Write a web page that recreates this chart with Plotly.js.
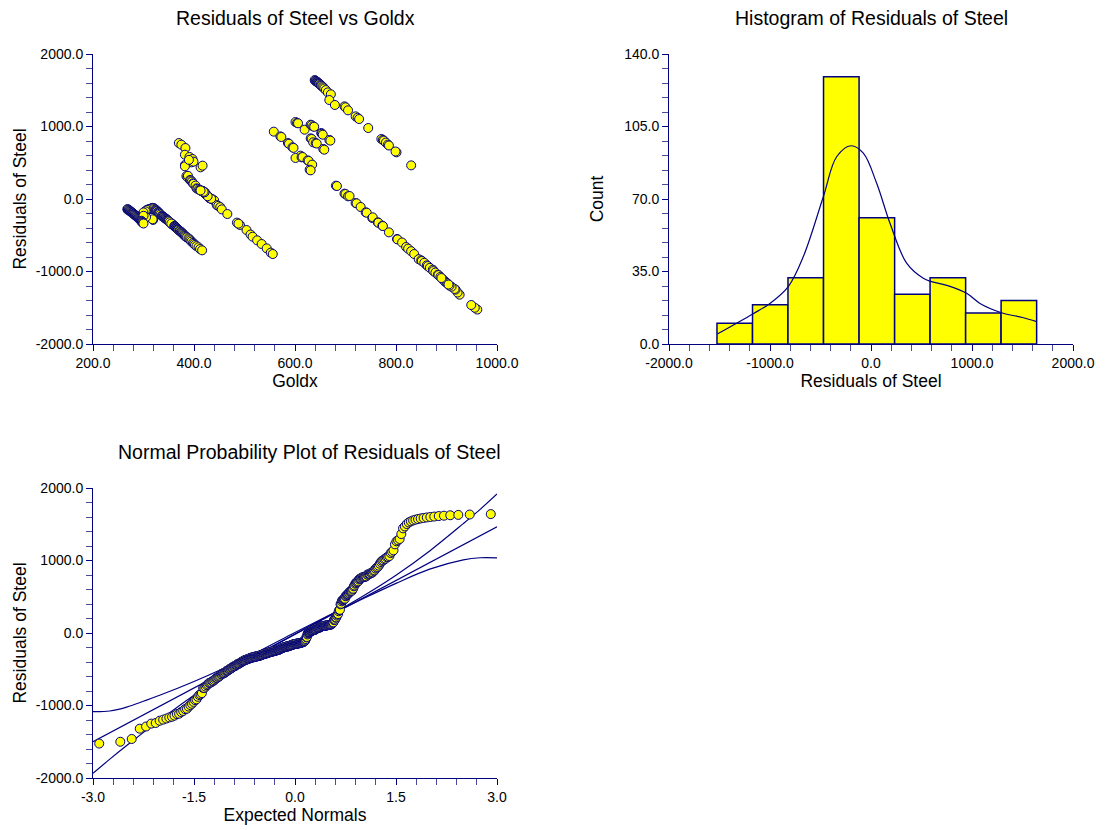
<!DOCTYPE html>
<html>
<head>
<meta charset="utf-8">
<script src="https://cdn.plot.ly/plotly-3.0.1.min.js"></script>
<style>html,body{margin:0;padding:0;background:#fff;}#chart{width:1113px;height:830px;}</style>
</head>
<body>
<div id="chart"></div>
<script>
// ---------- DATA ----------
const goldx = [
  639,640,641,642,643,644,645,646,647,648,650,651,652,654,656,658,661,665,671,668,679,
  698,700,705,720,724,727,745,601,604,606,619,631,633,636,638,
  771,774,776,780,784,786,801,799,652,653,655,668,670,631,633,636,641,643,656,658,558,571,573,586,588,595,597,611,370,375,383,382,
  391,397,395,399,382,382,413,417,390,385,387,388,392,394,396,601,613,615,625,627,634,629,631,830,
  681,683,698,700,705,708,720,722,730,
  437,440,445,448,452,
  421,422,422,423,424,424,425,426,426,427,428,428,429,430,431,431,432,433,434,421,423,427,
  415,416,416,417,417,418,418,418,419,419,420,420,420,421,414,415,419,
  398,399,403,405,407,410,412,413,
  740,742,753,754,764,765,773,774,786,
  455,466,485,491,504,488,
  268,269,269,270,271,272,310,311,316,315,317,318,323,322,313,306,307,321,320,322,324,325,
  273,274,275,276,277,278,279,280,281,282,283,284,303,304,300,329,328,326,327,329,330,331,332,334,
  285,286,287,288,289,290,290,291,292,293,294,295,319,318,302,305,300,336,337,338,339,340,341,342,343,344,345,346,347,348,
  296,296,297,298,299,300,349,350,351,352,353,354,355,356,356,357,358,359,360,350,352,355,
  361,362,362,363,364,365,366,367,368,369,369,371,372,374,375,376,
  377,378,380,381,382,384,386,389,391,393,395,398,400,402,405,409,412,416,
  512,516,525,534,544,552,556,
  802,803,812,820,824,830,836,
  845,850,851,856,861,863,867,873,874,878,883,884,888,893,894,897,900,902,890,
  961,956,949,926,922,918,916,910,906,904
];
const residuals = [
  1640,1634,1629,1624,1618,1613,1606,1600,1594,1587,1580,1572,1563,1553,1540,1525,1503,1470,1444,1365,1297,
  1278,1265,1223,1140,1120,1103,979,1062,1050,1044,956,1025,1018,1002,996,
  828,815,805,778,750,738,644,655,910,900,887,815,805,837,828,782,772,765,690,680,929,864,855,772,762,713,705,598,772,749,703,611,
  580,552,506,515,469,451,437,460,540,317,300,320,262,255,240,566,575,579,533,525,474,404,395,464,
  184,179,74,69,37,41,-55,-60,-110,
  -5,-20,-83,-95,-112,
  85,80,75,70,66,60,55,50,45,40,35,30,26,22,16,12,9,5,3,88,72,38,
  115,112,110,108,106,104,102,101,99,98,96,95,94,93,114,111,100,
  216,210,185,147,140,130,122,118,
  -184,-189,-262,-253,-322,-327,-368,-373,-460,
  -143,-207,-326,-358,-428,-340,
  -140,-147,-150,-145,-152,-158,-142,-140,-129,-133,-125,-122,-152,-148,-137,-155,-150,-130,-126,-138,-145,-155,
  -165,-170,-176,-182,-188,-192,-198,-205,-210,-214,-220,-226,-175,-170,-185,-198,-190,-163,-168,-178,-187,-195,-203,-215,
  -232,-238,-244,-250,-257,-262,-266,-270,-276,-282,-288,-294,-289,-280,-240,-250,-232,-232,-236,-240,-245,-250,-255,-260,-266,-272,-278,-283,-290,-295,
  -300,-312,-318,-322,-330,-338,-302,-308,-312,-318,-324,-330,-336,-342,-346,-350,-356,-360,-364,-305,-320,-339,
  -372,-378,-382,-388,-391,-398,-404,-410,-416,-424,-427,-435,-442,-452,-458,-464,
  -474,-480,-492,-500,-510,-520,-530,-542,-555,-570,-588,-605,-618,-634,-650,-666,-690,-708,
  -490,-520,-570,-621,-681,-740,-759,
  -552,-557,-600,-662,-685,-720,-759,
  -830,-846,-855,-880,-915,-925,-950,-975,-994,-1015,-1044,-1050,-1075,-1113,-1118,-1140,-1155,-1165,-1090,
  -1525,-1500,-1462,-1320,-1290,-1250,-1241,-1210,-1195,-1180
];

// histogram (counts)
const binEdges = [-1525,-1173,-822,-470,-118,234,585,937,1288,1640];
const binCounts = [10,19,32,129,61,24,32,15,21];

// density curve over histogram
const densX = [-1522,-1171,-1000,-819,-670,-472,-340,-198,-76,56,188,353,518,600,760,947,1079,1293,1500,1640];
const densY = [4.8,14.5,19.6,27.7,42.2,71.1,90.4,95.7,92.1,77.6,58.3,39,31.7,30.1,28.2,24.5,19.6,15.1,12.8,10.8];

// normal probability plot reference line and bands
const refQ = [-3, 3];
const refR = [-1499, 1466];
const bandQ = [-3,-2.75,-2.5,-2,-1.5,-1,-0.5,0,0.5,1,1.5,2,2.5,2.75,3];
const bandA = [-1936,-1740,-1552,-1195,-858,-551,-274,-16,236,503,797,1132,1509,1705,1917];
const bandB = [-1085,-1076,-1022,-855,-668,-461,-234,8,241,468,685,881,1009,1038,1036];

// ---------- helpers ----------
function invNorm(p){
  const a=[-3.969683028665376e+01,2.209460984245205e+02,-2.759285104469687e+02,1.383577518672690e+02,-3.066479806614716e+01,2.506628277459239e+00];
  const b=[-5.447609879822406e+01,1.615858368580409e+02,-1.556989798598866e+02,6.680131188771972e+01,-1.328068155288572e+01];
  const c=[-7.784894002430293e-03,-3.223964580411365e-01,-2.400758277161838e+00,-2.549732539343734e+00,4.374664141464968e+00,2.938163982698783e+00];
  const d=[7.784695709041462e-03,3.224671290700398e-01,2.445134137142996e+00,3.754408661907416e+00];
  const pl=0.02425, ph=1-pl; let q,r;
  if(p<pl){q=Math.sqrt(-2*Math.log(p));return (((((c[0]*q+c[1])*q+c[2])*q+c[3])*q+c[4])*q+c[5])/((((d[0]*q+d[1])*q+d[2])*q+d[3])*q+1);}
  if(p>ph){q=Math.sqrt(-2*Math.log(1-p));return -(((((c[0]*q+c[1])*q+c[2])*q+c[3])*q+c[4])*q+c[5])/((((d[0]*q+d[1])*q+d[2])*q+d[3])*q+1);}
  q=p-0.5; r=q*q;
  return (((((a[0]*r+a[1])*r+a[2])*r+a[3])*r+a[4])*r+a[5])*q/(((((b[0]*r+b[1])*r+b[2])*r+b[3])*r+b[4])*r+1);
}
const sortedRes = residuals.slice().sort((x,y)=>x-y);
const n = sortedRes.length;
const expNorm = sortedRes.map((v,i)=>invNorm((i+1-0.375)/(n+0.25)));

const binMid = binCounts.map((c,i)=>(binEdges[i]+binEdges[i+1])/2);
const binW = binCounts.map((c,i)=>binEdges[i+1]-binEdges[i]);

// ---------- styling ----------
const NAVY = '#000080';
const FONT = 'Liberation Sans, Arial, Helvetica, sans-serif';
const markerStyle = {size:9, color:'#FFFF00', line:{color:NAVY, width:1}};

function ticks(range, dtick){
  const vals = [], txt = [];
  const k = Math.round((range[1]-range[0])/dtick);
  for(let i=0;i<=k;i++){ const v = range[0]+i*dtick; vals.push(v); txt.push(v.toFixed(1)); }
  return {vals, txt};
}

function axis(domain, range, dtick, minorDtick, anchor, title, standoff){
  const t = ticks(range, dtick);
  return {
    domain: domain, range: range, anchor: anchor,
    showline: true, linecolor: NAVY, linewidth: 1, mirror: false,
    showgrid: false, zeroline: false,
    ticks: 'outside', ticklen: 6, tickcolor: NAVY, tickwidth: 1,
    tickmode: 'array', tickvals: t.vals, ticktext: t.txt,
    minor: {tickmode:'linear', dtick: minorDtick, tick0: range[0], ticks: 'outside', ticklen: 6, tickcolor: '#4a4aa0', tickwidth: 1, showgrid: false},
    tickfont: {family: FONT, size: 14, color: '#000'},
    title: {text: title, font: {family: FONT, size: 17.5, color: '#000'}, standoff: standoff},
    automargin: false, fixedrange: true
  };
}

const xL = [93/1113, 497/1113], xR = [669/1113, 1073/1113];
const yT = [1-344/830, 1-54/830], yB = [1-778/830, 1-488/830];

const traces = [
  {type:'scatter', mode:'markers', x: goldx, y: residuals, xaxis:'x', yaxis:'y', marker: markerStyle},
  {type:'bar', x: binMid, y: binCounts, width: binW, xaxis:'x2', yaxis:'y2',
   marker:{color:'#FFFF00', line:{color:NAVY, width:1.5}}},
  {type:'scatter', mode:'lines', x: densX, y: densY, xaxis:'x2', yaxis:'y2',
   line:{color:NAVY, width:1.2, shape:'spline', smoothing:1}},
  {type:'scatter', mode:'lines', x: bandQ, y: bandA, xaxis:'x3', yaxis:'y3', line:{color:NAVY, width:1.2, shape:'spline'}},
  {type:'scatter', mode:'lines', x: refQ, y: refR, xaxis:'x3', yaxis:'y3', line:{color:NAVY, width:1.2}},
  {type:'scatter', mode:'lines', x: bandQ, y: bandB, xaxis:'x3', yaxis:'y3', line:{color:NAVY, width:1.2, shape:'spline'}},
  {type:'scatter', mode:'markers', x: expNorm, y: sortedRes, xaxis:'x3', yaxis:'y3', marker: markerStyle}
];

const titleFont = {family:FONT, size:19.5, color:'#000'};
const layout = {
  width: 1113, height: 830,
  margin: {l:0, r:0, t:0, b:0},
  paper_bgcolor: '#fff', plot_bgcolor: '#fff',
  showlegend: false, bargap: 0,
  font: {family: FONT, color: '#000'},
  xaxis: axis(xL, [200,1000], 200, 40, 'y', 'Goldx', 2),
  yaxis: axis(yT, [-2000,2000], 1000, 200, 'x', 'Residuals of Steel', 4),
  xaxis2: axis(xR, [-2000,2000], 1000, 200, 'y2', 'Residuals of Steel', 2),
  yaxis2: axis(yT, [0,140], 35, 7, 'x2', 'Count', 16),
  xaxis3: axis(xL, [-3,3], 1.5, 0.3, 'y3', 'Expected Normals', 2),
  yaxis3: axis(yB, [-2000,2000], 1000, 200, 'x3', 'Residuals of Steel', 4),
  annotations: [
    {text:'Residuals of Steel vs Goldx', x:295/1113, y:1-18/830, xref:'paper', yref:'paper', showarrow:false, xanchor:'center', yanchor:'middle', font:titleFont},
    {text:'Histogram of Residuals of Steel', x:871/1113, y:1-18/830, xref:'paper', yref:'paper', showarrow:false, xanchor:'center', yanchor:'middle', font:titleFont},
    {text:'Normal Probability Plot of Residuals of Steel', x:309/1113, y:1-452/830, xref:'paper', yref:'paper', showarrow:false, xanchor:'center', yanchor:'middle', font:titleFont}
  ]
};

Plotly.newPlot('chart', traces, layout, {displayModeBar:false, staticPlot:true});
</script>
</body>
</html>
